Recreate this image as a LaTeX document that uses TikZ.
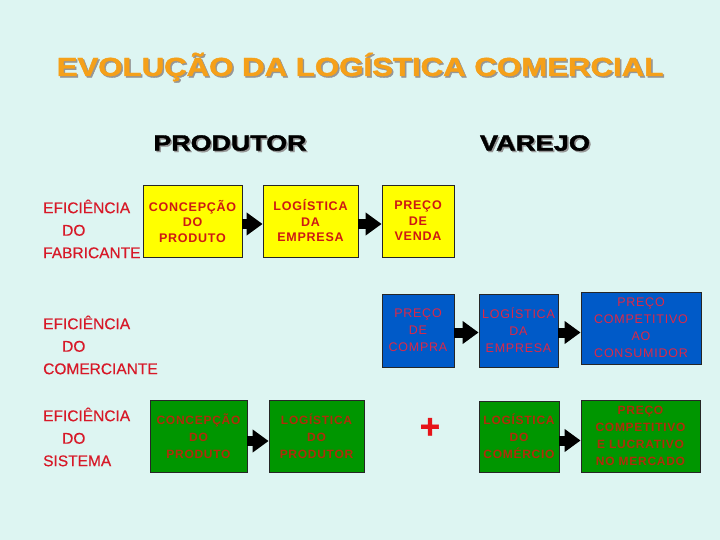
\documentclass[tikz,border=0pt]{standalone}
\usepackage{fontspec}
\usepackage{graphicx}
\setmainfont{Liberation Sans}
\newfontfamily\spacedfont[LetterSpace=6]{Liberation Sans}
\newfontfamily\heavyfont[FakeBold=1.6]{Liberation Sans Bold}
\newfontfamily\semifont[FakeBold=0.4]{Liberation Sans}
\usetikzlibrary{arrows.meta}
\definecolor{bg}{RGB}{221,245,242}
\definecolor{titleor}{RGB}{245,160,25}
\definecolor{shadowgr}{RGB}{150,150,150}
\definecolor{lred}{RGB}{215,25,40}
\definecolor{yfill}{RGB}{255,255,0}
\definecolor{ytext}{RGB}{205,25,20}
\definecolor{bfill}{RGB}{0,90,200}
\definecolor{btext}{RGB}{222,40,70}
\definecolor{gfill}{RGB}{0,150,0}
\definecolor{gtext}{RGB}{175,45,10}
\definecolor{plusred}{RGB}{230,20,25}
\begin{document}
\begin{tikzpicture}[x=1pt,y=-1pt,
  box/.style={draw=black!85, line width=0.8pt, inner sep=0pt, align=center},
  ybox/.style={box, fill=yfill, text=ytext, font=\spacedfont\bfseries\fontsize{12.5}{15.5}\selectfont},
  bbox/.style={box, fill=bfill, text=btext, font=\spacedfont\fontsize{12.5}{17}\selectfont},
  gbox/.style={box, fill=gfill, text=gtext, font=\spacedfont\bfseries\fontsize{12}{17}\selectfont},
  lbl/.style={anchor=west, align=left, inner sep=0pt, text=lred, font=\semifont\fontsize{15.5}{22.5}\selectfont},
  arr/.style={-{Triangle[length=16pt,width=22pt]}, line width=10pt, draw=black},
  hdr/.style={inner sep=0pt, font=\heavyfont\fontsize{22}{22}\selectfont},
  ttl/.style={inner sep=0pt, font=\heavyfont\fontsize{26}{26}\selectfont}
]
\useasboundingbox (0,0) rectangle (720,540);
\fill[bg] (0,0) rectangle (720,540);

% title
\node[ttl, text=shadowgr] (titleS) at (361.5,68.5) {\scalebox{1.2}[1]{EVOLUÇÃO DA LOGÍSTICA COMERCIAL}};
\node[ttl, text=titleor] (title) at (360,67) {\scalebox{1.2}[1]{EVOLUÇÃO DA LOGÍSTICA COMERCIAL}};

% headers
\node[hdr, text=shadowgr] (prodS) at (231.5,144.5) {\scalebox{1.22}[1]{PRODUTOR}};
\node[hdr, text=black] (prod) at (230,143) {\scalebox{1.22}[1]{PRODUTOR}};
\node[hdr, text=shadowgr] (varS) at (536.5,144.5) {\scalebox{1.24}[1]{VAREJO}};
\node[hdr, text=black] (var) at (535,143) {\scalebox{1.24}[1]{VAREJO}};

% row labels
\node[lbl] (l1) at (43,229) {EFICIÊNCIA\\\hspace{19pt}DO\\FABRICANTE};
\node[lbl] (l2) at (43,345) {EFICIÊNCIA\\\hspace{19pt}DO\\COMERCIANTE};
\node[lbl] (l3) at (43,437) {EFICIÊNCIA\\\hspace{19pt}DO\\SISTEMA};

% row 1
\node[ybox, minimum width=99pt, minimum height=72pt] (a1) at (192.5,221) {CONCEPÇÃO\\DO\\PRODUTO};
\node[ybox, minimum width=95pt, minimum height=72pt] (a2) at (310.5,221) {LOGÍSTICA\\DA\\EMPRESA};
\node[ybox, minimum width=72pt, minimum height=72pt] (a3) at (418,221) {PREÇO\\DE\\VENDA};
\draw[arr] ([yshift=-3pt]a1.east) -- ([yshift=-3pt]a2.west);
\draw[arr] ([yshift=-3pt]a2.east) -- ([yshift=-3pt]a3.west);

% row 2
\node[bbox, minimum width=72pt, minimum height=73pt] (b1) at (418,330.5) {PREÇO\\DE\\COMPRA};
\node[bbox, minimum width=79pt, minimum height=73pt] (b2) at (518.5,330.5) {LOGÍSTICA\\DA\\EMPRESA};
\node[bbox, minimum width=120pt, minimum height=72pt] (b3) at (641,328) {PREÇO\\COMPETITIVO\\AO\\CONSUMIDOR};
\draw[arr] ([yshift=-2pt]b1.east) -- ([yshift=-2pt]b2.west);
\draw[arr] ([yshift=-2pt]b2.east) -- ([yshift=-2pt]b2.east -| b3.west);

% row 3
\node[gbox, minimum width=97pt, minimum height=72pt] (c1) at (198.5,436) {CONCEPÇÃO\\DO\\PRODUTO};
\node[gbox, minimum width=95pt, minimum height=72pt] (c2) at (316.5,436) {LOGÍSTICA\\DO\\PRODUTOR};
\node[inner sep=0pt, text=plusred, font=\heavyfont\fontsize{34}{34}\selectfont] (plus) at (430,428) {+};
\node[gbox, minimum width=80pt, minimum height=71pt] (c3) at (519,436.5) {LOGÍSTICA\\DO\\COMÉRCIO};
\node[gbox, minimum width=119pt, minimum height=72pt] (c4) at (640.5,436) {PREÇO\\COMPETITIVO\\E LUCRATIVO\\NO MERCADO};
\draw[arr] ([yshift=-5pt]c1.east) -- ([yshift=-5pt]c2.west);
\draw[arr] ([yshift=-4pt]c3.east) -- ([yshift=-4pt]c3.east -| c4.west);
\end{tikzpicture}
\end{document}
